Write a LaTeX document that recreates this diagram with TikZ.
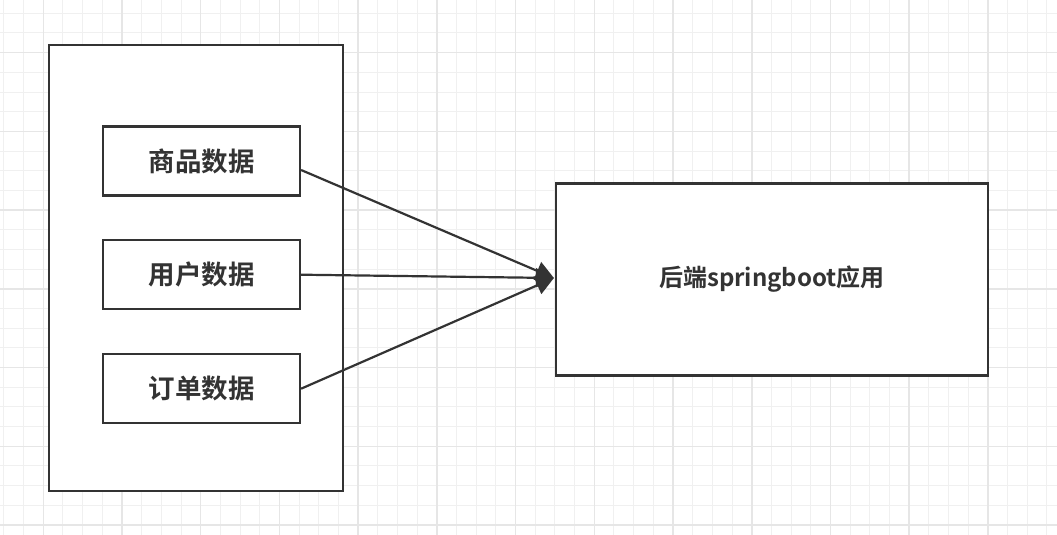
\documentclass[tikz,border=0pt]{standalone}
\usepackage{fontspec}
\setmainfont{Noto Sans CJK SC}[BoldFont={Noto Sans CJK SC Bold}]
\usetikzlibrary{arrows.meta,calc}
\definecolor{ink}{HTML}{333333}
\definecolor{gridminor}{HTML}{F0F0F0}
\definecolor{gridmajor}{HTML}{E6E6E6}
\begin{document}
\begin{tikzpicture}[x=1pt,y=-1pt,
  minorline/.style={draw=gridminor,line width=1pt},
  majorline/.style={draw=gridmajor,line width=1.5pt},
  frame/.style={draw=ink,line width=2.2pt,fill=white},
  databox/.style={frame,minimum width=197pt,minimum height=69pt,inner sep=0pt,
    text=ink,font=\fontsize{26.5}{30}\selectfont\bfseries},
  appbox/.style={frame,minimum width=432pt,minimum height=192pt,inner sep=0pt,
    text=ink,font=\fontsize{24}{28}\selectfont\bfseries},
  link/.style={draw=ink,line width=2.2pt,-{Triangle[length=18pt,width=19pt]}}]
\useasboundingbox (0,0) rectangle (1057,535);
\fill[white] (0,0) rectangle (1057,535);
% grid
\foreach \i in {0,...,53}{\pgfmathsetmacro\gx{3.9+19.68*\i}\draw[minorline] (\gx,0) -- (\gx,535);}
\foreach \i in {0,...,27}{\pgfmathsetmacro\gy{13.3+19.68*\i}\draw[minorline] (0,\gy) -- (1057,\gy);}
\foreach \i in {0,...,13}{\pgfmathsetmacro\gx{43.3+78.72*\i}\draw[majorline] (\gx,0) -- (\gx,535);}
\foreach \i in {0,...,6}{\pgfmathsetmacro\gy{52.7+78.72*\i}\draw[majorline] (0,\gy) -- (1057,\gy);}
% outer container
\node[frame,minimum width=294pt,minimum height=446pt,inner sep=0pt] (outer) at (196,268) {};
% data boxes
\node[databox] (goods) at (201.5,161) {商品数据};
\node[databox] (users) at (201.5,274.7) {用户数据};
\node[databox] (orders) at (201.5,388.7) {订单数据};
% application box
\node[appbox] (app) at (772,279.5) {后端springboot应用};
\coordinate (tip) at ($(app.west)+(-1,-1.5)$);
% connectors
\draw[link] ([yshift=-9pt]goods.east) -- (tip);
\draw[link] (users.east) -- (tip);
\draw[link] (orders.east) -- (tip);
\end{tikzpicture}
\end{document}
